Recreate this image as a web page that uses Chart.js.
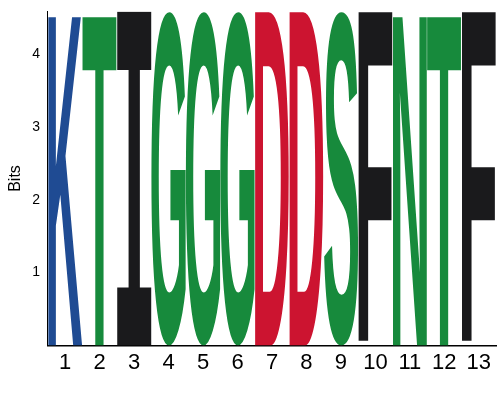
<!DOCTYPE html>
<html>
<head>
<meta charset="utf-8">
<script src="https://cdn.jsdelivr.net/npm/chart.js@4"></script>
<style>
  html, body { margin: 0; padding: 0; background: #fff; }
  #wrap { width: 500px; height: 400px; }
</style>
</head>
<body>
<div id="wrap"><canvas id="logo"></canvas></div>
<script>
// sequence logo: one letter per position, full info content
const positions = ['1','2','3','4','5','6','7','8','9','10','11','12','13'];
const letters   = ['K','T','I','G','G','G','D','D','S','F','N','T','F'];
const bits      = [4.58,4.58,4.58,4.58,4.58,4.58,4.58,4.58,4.58,4.58,4.58,4.58,4.58];
const yTicks    = [1, 2, 3, 4];

const letterColors = { K: '#1f4b93', T: '#178a3c', G: '#178a3c', S: '#178a3c', N: '#178a3c',
                       I: '#1a1a1c', F: '#1a1a1c', D: '#cc1430' };

const letterPlugin = {
    id: 'letters',
    afterDatasetsDraw(chart) {
        const ctx = chart.ctx;
        const area = chart.chartArea;
        const meta = chart.getDatasetMeta(0);
        ctx.save();
        ctx.beginPath();
        ctx.rect(area.left, area.top, area.right - area.left, area.bottom - area.top);
        ctx.clip();
        meta.data.forEach((bar, i) => {
            const ch = letters[i];
            const p = bar.getProps(['x', 'y', 'base', 'width'], true);
            const bw = p.width, bh = p.base - p.y;
            ctx.save();
            // serifed I like the reference
            ctx.font = ch === 'I' ? 'bold 100px "DejaVu Sans Mono"' : 'bold 100px "Liberation Sans"';
            const m = ctx.measureText(ch);
            const w = m.actualBoundingBoxLeft + m.actualBoundingBoxRight;
            const h = m.actualBoundingBoxAscent + m.actualBoundingBoxDescent;
            ctx.translate(p.x - bw / 2, p.base);
            ctx.scale(bw / w, bh / h);
            ctx.fillStyle = letterColors[ch] || '#000';
            ctx.fillText(ch, m.actualBoundingBoxLeft, -m.actualBoundingBoxDescent);
            ctx.restore();
        });
        ctx.restore();
    }
};

new Chart(document.getElementById('logo'), {
    type: 'bar',
    data: {
        labels: positions,
        datasets: [{ data: bits, backgroundColor: 'rgba(0,0,0,0)', categoryPercentage: 1, barPercentage: 1 }]
    },
    options: {
        responsive: true, maintainAspectRatio: false, animation: false,
        layout: { padding: { top: 5, right: 4, left: 2, bottom: 24 } },
        plugins: { legend: { display: false }, tooltip: { enabled: false } },
        scales: {
            x: {
                grid: { display: false, drawTicks: true, tickLength: 4 },
                border: { color: '#000', width: 1.5 },
                ticks: { color: '#000', font: { family: 'Liberation Sans', size: 22 }, padding: 0 }
            },
            y: {
                min: 0, max: 4.58,
                afterBuildTicks: axis => { axis.ticks = yTicks.map(v => ({ value: v })); },
                grid: { display: false, drawTicks: true, tickLength: 5 },
                border: { color: '#000', width: 1 },
                ticks: { color: '#000', font: { family: 'Liberation Sans', size: 14 } },
                title: { display: true, text: 'Bits', color: '#000', font: { family: 'Liberation Sans', size: 16 } }
            }
        }
    },
    plugins: [letterPlugin]
});
</script>
</body>
</html>
